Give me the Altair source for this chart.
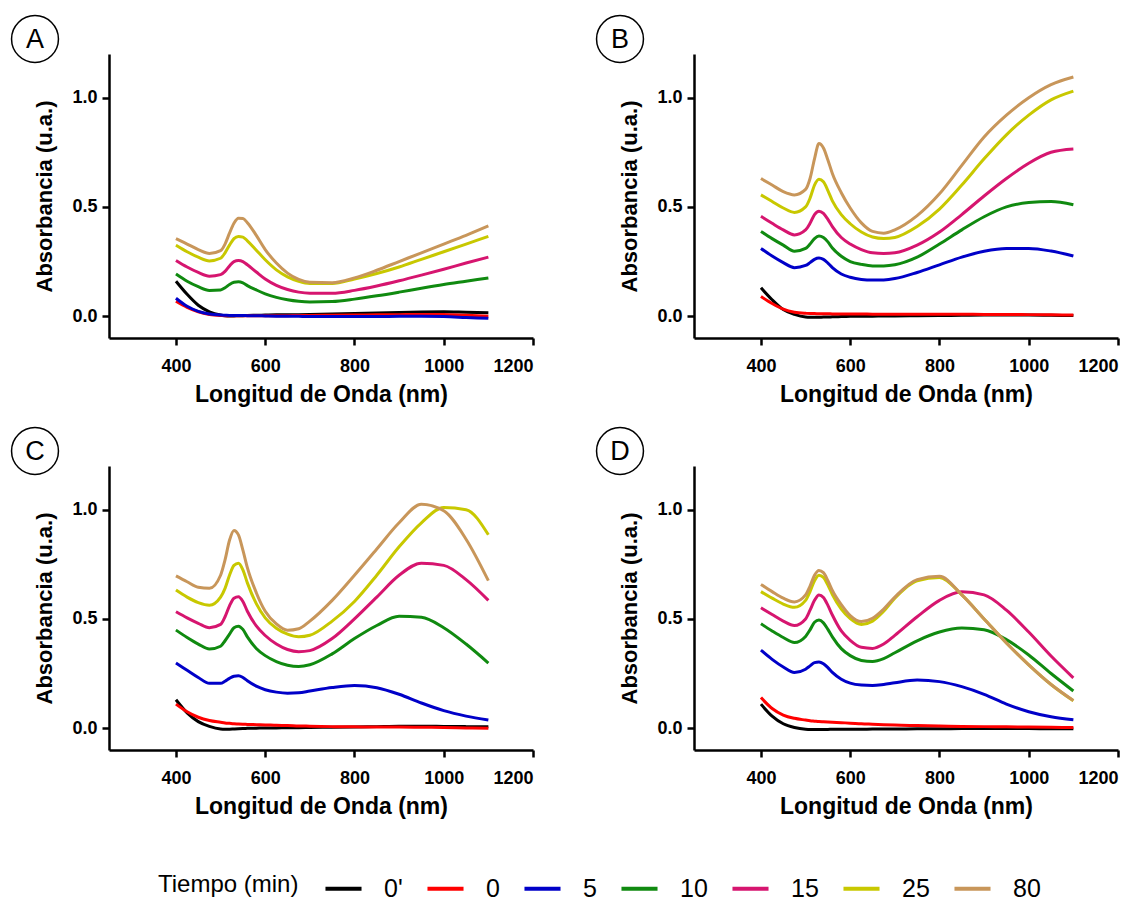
import altair as alt
import pandas as pd

# ---------------- data ----------------
wl = [400, 425, 450, 475, 500, 510, 520, 530, 540, 550, 560, 580, 600,
      625, 650, 675, 700, 750, 800, 850, 900, 950, 1000, 1050, 1100]

tiempos = ["0'", "0", "5", "10", "15", "25", "80"]
colores = ["#000000", "#ff0000", "#0000c8", "#108a10", "#d6156f", "#c8c800", "#c8965a"]
paneles = ["A", "B", "C", "D"]

# Panel A
A_0p = [.16, .1, .05, .02, .005, .002, .001, .001, .002, .002, .003, .004, .005, .006, .006, .007, .008, .01, .012, .015, .017, .019, .02, .018, .016]
A_0 = [.068, .04, .02, .008, .003, .002, .002, .002, .002, .002, .002, .002, .002, .002, .002, .003, .003, .004, .005, .006, .007, .008, .008, .004, .0]
A_5 = [.082, .045, .022, .01, .005, .004, .003, .003, .003, .003, .002, .002, .001, .0, .0, -.001, -.002, -.002, -.002, -.002, -.001, -.001, -.002, -.006, -.01]
A_10 = [.193, .16, .135, .118, .12, .13, .145, .155, .157, .152, .14, .12, .102, .086, .075, .068, .065, .067, .078, .093, .11, .128, .145, .16, .175]
A_15 = [.255, .225, .2, .183, .19, .205, .23, .25, .255, .25, .235, .202, .17, .141, .122, .11, .105, .105, .118, .138, .162, .188, .215, .243, .27]
A_25 = [.325, .295, .27, .253, .265, .29, .325, .355, .365, .362, .345, .302, .258, .212, .18, .16, .15, .15, .17, .195, .225, .26, .295, .33, .365]
A_80 = [.355, .33, .305, .287, .3, .33, .38, .425, .448, .447, .428, .37, .305, .243, .197, .168, .155, .153, .175, .21, .25, .29, .33, .37, .413]

# Panel B
B_0p = [.13, .075, .03, .008, -.004, -.005, -.005, -.005, -.004, -.004, -.003, -.002, -.001, 0, 0, .001, .001, .002, .003, .004, .005, .005, .005, .004, .003]
B_0 = [.09, .058, .032, .018, .013, .012, .012, .011, .011, .011, .01, .01, .01, .01, .009, .009, .009, .009, .009, .009, .008, .008, .007, .006, .005]
B_5 = [.31, .275, .245, .222, .232, .245, .26, .266, .26, .243, .222, .193, .178, .168, .165, .166, .172, .2, .235, .27, .297, .31, .31, .298, .275]
B_10 = [.388, .355, .325, .297, .31, .33, .355, .367, .36, .34, .312, .274, .25, .237, .23, .23, .235, .27, .33, .395, .455, .5, .52, .525, .51]
B_15 = [.457, .425, .395, .372, .395, .425, .465, .48, .47, .443, .41, .36, .33, .305, .29, .287, .29, .325, .385, .465, .55, .63, .7, .75, .765]
B_25 = [.555, .525, .495, .475, .5, .54, .6, .627, .615, .575, .528, .465, .423, .385, .362, .355, .36, .41, .49, .6, .72, .83, .92, .99, 1.03]
B_80 = [.63, .6, .57, .555, .58, .63, .72, .79, .77, .715, .653, .565, .495, .427, .388, .38, .395, .46, .56, .69, .82, .92, 1.0, 1.06, 1.095]

# Panel C
C_0p = [.13, .07, .03, .008, -.004, -.005, -.005, -.004, -.003, -.002, -.001, 0, .001, .001, .002, .002, .003, .004, .005, .007, .009, .009, .008, .007, .006]
C_0 = [.11, .075, .05, .035, .027, .024, .022, .02, .019, .018, .017, .016, .015, .013, .012, .01, .009, .007, .006, .005, .005, .004, .003, .001, 0]
C_5 = [.298, .265, .232, .205, .205, .215, .228, .238, .24, .232, .217, .192, .176, .165, .16, .162, .17, .186, .195, .185, .155, .115, .08, .055, .037]
C_10 = [.449, .415, .385, .362, .375, .4, .43, .46, .467, .452, .418, .365, .332, .305, .288, .282, .29, .34, .41, .47, .512, .508, .46, .385, .298]
C_15 = [.533, .505, .48, .46, .475, .51, .56, .595, .602, .58, .535, .468, .424, .385, .36, .35, .355, .41, .5, .6, .7, .755, .745, .68, .585]
C_25 = [.632, .6, .575, .563, .6, .64, .7, .745, .755, .725, .665, .57, .505, .457, .43, .418, .425, .49, .58, .7, .83, .94, 1.01, 1.0, .885]
C_80 = [.697, .67, .645, .64, .7, .77, .86, .905, .885, .815, .735, .62, .535, .477, .448, .455, .49, .585, .7, .82, .94, 1.025, .995, .865, .675]

# Panel D
D_0p = [.11, .055, .02, .003, -.005, -.006, -.006, -.006, -.006, -.006, -.005, -.005, -.005, -.005, -.004, -.004, -.004, -.003, -.003, -.002, -.002, -.002, -.002, -.003, -.003]
D_0 = [.14, .09, .06, .045, .037, .034, .032, .03, .029, .028, .027, .025, .023, .02, .018, .016, .014, .012, .01, .008, .007, .006, .005, .004, .003]
D_5 = [.357, .315, .28, .255, .27, .285, .3, .303, .295, .277, .255, .224, .206, .197, .195, .2, .208, .22, .213, .19, .155, .11, .075, .052, .038]
D_10 = [.478, .445, .415, .392, .42, .45, .485, .495, .482, .452, .418, .364, .332, .31, .305, .318, .345, .4, .44, .458, .45, .405, .335, .25, .17]
D_15 = [.551, .52, .49, .47, .5, .54, .585, .61, .598, .562, .518, .445, .402, .37, .365, .385, .425, .51, .585, .624, .61, .54, .44, .33, .23]
D_25 = [.625, .595, .568, .553, .585, .625, .675, .7, .69, .655, .612, .545, .502, .475, .49, .535, .595, .675, .69, .61, .5, .39, .29, .2, .125]
D_80 = [.658, .625, .595, .578, .61, .65, .7, .722, .712, .675, .63, .565, .515, .488, .503, .545, .6, .68, .695, .61, .5, .39, .29, .2, .127]

series = {
    "A": [A_0p, A_0, A_5, A_10, A_15, A_25, A_80],
    "B": [B_0p, B_0, B_5, B_10, B_15, B_25, B_80],
    "C": [C_0p, C_0, C_5, C_10, C_15, C_25, C_80],
    "D": [D_0p, D_0, D_5, D_10, D_15, D_25, D_80],
}

FONT = "Liberation Sans"
W, H = 424, 284


def panel(letter):
    rows = []
    for k, (t, vals) in enumerate(zip(tiempos, series[letter])):
        for w, v in zip(wl, vals):
            rows.append({"wl": w, "abs": v, "Tiempo": t, "orden": k})
    df = pd.DataFrame(rows)
    lines = alt.Chart(df).mark_line(strokeWidth=3, interpolate="monotone").encode(
        x=alt.X("wl:Q", scale=alt.Scale(domain=[250, 1200], nice=False, zero=False),
                axis=alt.Axis(values=[400, 600, 800, 1000, 1200], format="d",
                              title="Longitud de Onda (nm)")),
        y=alt.Y("abs:Q", scale=alt.Scale(domain=[-0.1, 1.2], nice=False, zero=False),
                axis=alt.Axis(values=[0, 0.5, 1.0], format=".1f",
                              title="Absorbancia (u.a.)")),
        color=alt.Color("Tiempo:N", scale=alt.Scale(domain=tiempos, range=colores),
                        sort=tiempos,
                        legend=alt.Legend(title="Tiempo (min)", orient="none",
                                          direction="horizontal", columns=7,
                                          legendX=49, legendY=814)),
        order=alt.Order("orden:Q"),
    )
    lab = pd.DataFrame({"letra": [letter]})
    circ = alt.Chart(lab).mark_point(shape="circle", size=2200, filled=False,
                                     stroke="black", strokeWidth=1.5, opacity=1).encode(
        x=alt.value(-74), y=alt.value(-15))
    txt = alt.Chart(lab).mark_text(fontSize=27, font=FONT, color="black",
                                   align="center", baseline="middle").encode(
        x=alt.value(-74), y=alt.value(-14), text="letra:N")
    return alt.layer(lines, circ, txt).properties(width=W, height=H)


top = alt.hconcat(panel("A"), panel("B"), spacing=58)
bot = alt.hconcat(panel("C"), panel("D"), spacing=58)
chart = alt.vconcat(top, bot, spacing=18).properties(
    padding={"left": 0, "top": 4, "right": 0, "bottom": 0}
).configure_view(stroke=None).configure_axis(
    grid=False,
    domainColor="black", domainWidth=2.5,
    tickColor="black", tickWidth=2.5, tickSize=7,
    labelFont=FONT, labelFontWeight="bold", labelFontSize=18, labelColor="black",
    titleFont=FONT, titleFontWeight="bold", titleFontSize=22, titleColor="black",
).configure_axisY(labelPadding=5, titlePadding=15).configure_axisX(
    labelPadding=12, titlePadding=8, titleFontSize=23
).configure_legend(
    titleOrient="left", titleFont=FONT, titleFontSize=24,
    titleFontWeight="normal", titleColor="black", titlePadding=24,
    labelFont=FONT, labelFontSize=25, labelColor="black",
    symbolType="stroke", symbolSize=1300, symbolStrokeWidth=4,
    labelOffset=20, columnPadding=16,
)

chart.save("out.html", embed_options={"renderer": "svg", "actions": False})
